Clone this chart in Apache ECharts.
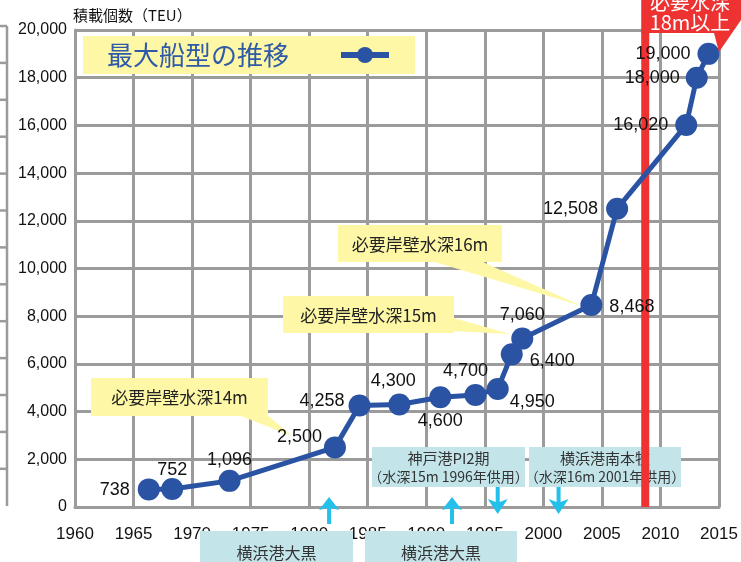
<!DOCTYPE html>
<html><head><meta charset="utf-8">
<script src="https://cdn.jsdelivr.net/npm/echarts@6/dist/echarts.min.js"></script>
<style>html,body{margin:0;padding:0;background:#fff}#c{width:741px;height:562px}</style>
</head><body><div id="c"></div>
<script>
// ---- data ----
const years = [1966.3, 1968.3, 1973.2, 1982.2, 1984.3, 1987.7, 1991.2, 1994.2, 1996.1, 1997.3, 1998.2, 2004.1, 2006.3, 2012.2, 2013.1, 2014.1];
const teu   = [738, 752, 1096, 2500, 4258, 4300, 4600, 4700, 4950, 6400, 7060, 8468, 12508, 16020, 18000, 19000];
const xMin = 1960, xMax = 2015, xStep = 5;
const yMin = 0, yMax = 20000, yStep = 2000;
const seriesName = '最大船型の推移';
const yAxisName = '積載個数（TEU）';
const depthLineYear = 2008.7;
const bannerText = ['必要水深', '18m以上'];
const calloutTexts = ['必要岸壁水深14m', '必要岸壁水深15m', '必要岸壁水深16m'];
const upperNotes = [['神戸港PI2期', '（水深15m 1996年供用）'], ['横浜港南本牧', '（水深16m 2001年供用）']];
const lowerNotes = ['横浜港大黒', '横浜港大黒'];
const arrowYears = [1981.7, 1992.2, 1996.1, 2001.3];
const arrowDirs  = ['up', 'up', 'down', 'down'];

// ---- styling (label placement per point) ----
const labelPlace = [
  ['left', 8, [0, 1]], ['top', 1, [0, 2]], ['top', 2, [0, 1]], ['left', 2, [0, -10]],
  ['left', 4, [0, -4]], ['top', 3, [-6, 0]], ['bottom', 4, [0, 0]], ['top', 4, [-10, 0]],
  ['right', 1, [0, 13]], ['right', 7, [0, 7]], ['top', 4, [0, 0]], ['right', 7, [0, 2]],
  ['left', 8, [0, 0]], ['left', 7, [0, 0]], ['left', 6, [0, 0]], ['left', 7, [0, 0]]
];

const FONT = '"Liberation Sans", Arial, "Noto Sans CJK JP", sans-serif';
const JFONT = '"Noto Sans CJK JP", "Liberation Sans", sans-serif';
const BLUE = '#2b53a3', GRID = '#9b9b9b', YEL = '#fdf7a6', CYAN = '#c3e5ea', ACY = '#22c0ea', RED = '#ee3131';

const chart = echarts.init(document.getElementById('c'), null, {renderer: 'canvas'});

const mainData = years.map((y, i) => ({
  value: [y, teu[i]],
  label: {position: labelPlace[i][0], distance: labelPlace[i][1], offset: labelPlace[i][2]}
}));

chart.setOption({
  animation: false,
  textStyle: {fontFamily: FONT},
  grid: {left: 75, right: 22, top: 30, bottom: 55},
  legend: {
    data: [seriesName], left: 83, top: 36, align: 'right',
    padding: [6, 23, 6, 24], backgroundColor: YEL, borderRadius: 0,
    itemWidth: 48, itemHeight: 20,
    lineStyle: {width: 6},
    formatter: '{t|{name}}{s|\u3000\u3000}',
    textStyle: {
      color: '#2f5aa8', fontFamily: JFONT,
      rich: {
        t: {fontSize: 26, height: 31, color: '#2f5aa8', fontFamily: JFONT},
        s: {fontSize: 23.5, height: 31, fontFamily: JFONT}
      }
    }
  },
  xAxis: {
    type: 'value', min: xMin, max: xMax, interval: xStep,
    axisLine: {show: true, lineStyle: {color: GRID, width: 3}},
    axisTick: {show: false},
    splitLine: {show: true, lineStyle: {color: GRID, width: 3}},
    axisLabel: {fontSize: 17, color: '#111', margin: 19, fontFamily: FONT, formatter: v => String(v)}
  },
  yAxis: {
    type: 'value', min: yMin, max: yMax, interval: yStep,
    name: yAxisName, nameLocation: 'end', nameGap: 15,
    nameTextStyle: {fontSize: 15, color: '#111', align: 'left', verticalAlign: 'middle', fontFamily: JFONT, padding: [0, 0, 0, -2]},
    axisLine: {show: true, lineStyle: {color: GRID, width: 3}},
    axisTick: {show: false},
    splitLine: {show: true, lineStyle: {color: GRID, width: 3}},
    axisLabel: {fontSize: 16, color: '#111', margin: 8, fontFamily: FONT,
      formatter: v => v.toLocaleString('en-US')}
  },
  series: [
    {
      name: 'depth', type: 'line', z: 1, silent: true, symbol: 'none',
      data: [[depthLineYear, yMin], [depthLineYear, yMax]],
      lineStyle: {color: RED, width: 8, cap: 'butt'}
    },
    {
      name: seriesName, type: 'line', z: 3, symbol: 'circle', symbolSize: 22,
      itemStyle: {color: BLUE},
      lineStyle: {color: BLUE, width: 5},
      data: mainData,
      label: {show: true, fontSize: 18, color: '#111', fontFamily: FONT,
        formatter: p => p.value[1].toLocaleString('en-US')}
    }
  ]
});

// ---- annotations ----
const g = [];
// left remnant axis
const remTop = 26, remBot = 506, remStep = 36.9;
g.push({type: 'line', shape: {x1: 7, y1: remTop, x2: 7, y2: remBot}, style: {stroke: GRID, lineWidth: 2.5}, z: 1});
for (let k = 0; k < 13; k++) {
  const yy = remTop + k * remStep;
  g.push({type: 'line', shape: {x1: 0, y1: yy, x2: 7, y2: yy}, style: {stroke: GRID, lineWidth: 2.5}, z: 1});
}
// callouts
function callout(x, y, w, h, pts, text) {
  g.push({type: 'polygon', shape: {points: pts}, style: {fill: YEL}, z: 1});
  g.push({type: 'rect', shape: {x: x, y: y, width: w, height: h}, style: {fill: YEL}, z: 1});
  g.push({type: 'text', x: x + w / 2, y: y + h / 2 + 1, style: {text: text, fill: '#222', font: '17px ' + JFONT, align: 'center', verticalAlign: 'middle'}, z: 1});
}
callout(91, 378, 177, 38, [[236, 414], [266, 414], [292, 436]], calloutTexts[0]);
callout(283, 296, 171, 37, [[450, 317], [450, 331], [510, 334]], calloutTexts[1]);
callout(338, 225, 164, 37, [[428, 260], [478, 260], [582, 306]], calloutTexts[2]);
// upper cyan notes
const upBoxes = [[372, 447, 153, 40], [529, 447, 152, 40]];
upBoxes.forEach((b, i) => {
  g.push({type: 'rect', shape: {x: b[0], y: b[1], width: b[2], height: b[3]}, style: {fill: CYAN}, z: 1});
  g.push({type: 'text', x: b[0] + b[2] / 2, y: b[1] + 11, style: {text: upperNotes[i][0], fill: '#333', font: '15px ' + JFONT, align: 'center', verticalAlign: 'middle'}, z: 1});
  g.push({type: 'text', x: b[0] + b[2] / 2, y: b[1] + 30, style: {text: upperNotes[i][1], fill: '#333', font: '14px ' + JFONT, align: 'center', verticalAlign: 'middle'}, z: 1});
});
// lower cyan notes
const lowBoxes = [[200, 531, 153, 31], [365, 531, 152, 31]];
lowBoxes.forEach((b, i) => {
  g.push({type: 'rect', shape: {x: b[0], y: b[1], width: b[2], height: b[3] + 5}, style: {fill: CYAN}, z: 1});
  g.push({type: 'text', x: b[0] + b[2] / 2, y: 553, style: {text: lowerNotes[i], fill: '#333', font: '16px ' + JFONT, align: 'center', verticalAlign: 'middle'}, z: 1});
});
// arrows
arrowYears.forEach((yr, i) => {
  const px = chart.convertToPixel({gridIndex: 0}, [yr, 0])[0];
  if (arrowDirs[i] === 'up') {
    g.push({type: 'polygon', shape: {points: [[px, 497], [px + 10, 510], [px + 2, 508], [px + 2, 524], [px - 2, 524], [px - 2, 508], [px - 10, 510]]}, style: {fill: ACY}, z: 2});
  } else {
    g.push({type: 'polygon', shape: {points: [[px - 2, 487], [px + 2, 487], [px + 2, 502], [px + 10, 499], [px, 514], [px - 10, 499], [px - 2, 502]]}, style: {fill: ACY}, z: 2});
  }
});
// red banner
const rx = chart.convertToPixel({gridIndex: 0}, [depthLineYear, 0])[0];
g.push({type: 'polygon', shape: {points: [[rx - 4, 0], [741, 0], [741, 20], [719, 52], [714, 33], [rx - 4, 33]]}, style: {fill: RED}, z: 5});
g.push({type: 'text', x: 690, y: 2, style: {text: bannerText[0], fill: '#fff', font: '20px ' + JFONT, align: 'center', verticalAlign: 'middle'}, z: 6});
g.push({type: 'text', x: 690, y: 22, style: {text: bannerText[1], fill: '#fff', font: '20px ' + JFONT, align: 'center', verticalAlign: 'middle'}, z: 6});

chart.setOption({graphic: {elements: g}});
</script></body></html>
